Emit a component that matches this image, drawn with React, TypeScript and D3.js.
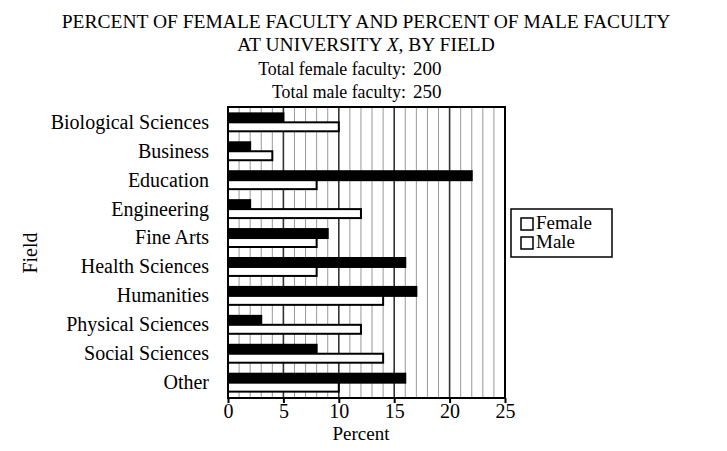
import { useEffect, useRef } from "react";
import * as d3 from "d3";

const categories = [
  "Biological Sciences",
  "Business",
  "Education",
  "Engineering",
  "Fine Arts",
  "Health Sciences",
  "Humanities",
  "Physical Sciences",
  "Social Sciences",
  "Other",
];
const femaleValues = [5, 2, 22, 2, 9, 16, 17, 3, 8, 16];
const maleValues = [10, 4, 8, 12, 8, 8, 14, 12, 14, 10];
const seriesNames = ["Female", "Male"];
const xTicks = [0, 5, 10, 15, 20, 25];

const App = () => {
  const svgRef = useRef<SVGSVGElement | null>(null);

  useEffect(() => {
    const svg = d3.select(svgRef.current);
    svg.selectAll("*").remove();

    const width = 727;
    const height = 451;
    const font = "'Liberation Serif', serif";
    const left = 228,
      right = 505,
      top = 107,
      bottom = 398;

    const x = d3.scaleLinear().domain([0, 25]).range([left, right]);
    const y = d3
      .scaleBand<string>()
      .domain(categories)
      .range([top, bottom])
      .paddingInner(0.38)
      .paddingOuter(0.22);
    const ySub = d3
      .scaleBand<string>()
      .domain(seriesNames)
      .range([0, y.bandwidth()]);

    svg.attr("width", width).attr("height", height);
    svg.append("rect").attr("width", width).attr("height", height).attr("fill", "#fff");

    // title
    const title = svg
      .append("g")
      .attr("font-family", font)
      .attr("font-size", 19.5)
      .attr("fill", "#000");
    title
      .append("text")
      .attr("x", 366)
      .attr("y", 28)
      .attr("text-anchor", "middle")
      .text("PERCENT OF FEMALE FACULTY AND PERCENT OF MALE FACULTY");
    const t2 = title
      .append("text")
      .attr("x", 366)
      .attr("y", 51)
      .attr("text-anchor", "middle");
    t2.append("tspan").text("AT UNIVERSITY ");
    t2.append("tspan").attr("font-style", "italic").text("X");
    t2.append("tspan").text(", BY FIELD");

    const totals = [
      ["Total female faculty:", "200"],
      ["Total male faculty:", "250"],
    ];
    totals.forEach((row, i) => {
      title
        .append("text")
        .attr("x", 406)
        .attr("y", 75 + i * 23)
        .attr("text-anchor", "end")
        .attr("font-size", 17.8)
        .text(row[0]);
      title
        .append("text")
        .attr("x", 413)
        .attr("y", 75 + i * 23)
        .attr("font-size", 19)
        .text(row[1]);
    });

    // grid
    const grid = svg.append("g");
    d3.range(1, 25).forEach((v) => {
      grid
        .append("line")
        .attr("x1", x(v))
        .attr("x2", x(v))
        .attr("y1", top)
        .attr("y2", bottom)
        .attr("stroke", v % 5 === 0 ? "#333" : "#999")
        .attr("stroke-width", v % 5 === 0 ? 1.6 : 1);
    });

    // bars
    const groups = svg
      .append("g")
      .selectAll("g")
      .data(categories)
      .enter()
      .append("g")
      .attr("transform", (d) => `translate(0,${y(d)})`);

    groups
      .append("rect")
      .attr("x", x(0))
      .attr("y", ySub("Female")!)
      .attr("width", (d, i) => x(femaleValues[i]) - x(0))
      .attr("height", ySub.bandwidth())
      .attr("fill", "#000")
      .attr("stroke", "#000")
      .attr("stroke-width", 2);

    groups
      .append("rect")
      .attr("x", x(0))
      .attr("y", ySub("Male")!)
      .attr("width", (d, i) => x(maleValues[i]) - x(0))
      .attr("height", ySub.bandwidth())
      .attr("fill", "#fff")
      .attr("stroke", "#000")
      .attr("stroke-width", 2);

    // frame
    svg
      .append("rect")
      .attr("x", left)
      .attr("y", top)
      .attr("width", right - left)
      .attr("height", bottom - top)
      .attr("fill", "none")
      .attr("stroke", "#000")
      .attr("stroke-width", 2);

    // x axis
    const xAxis = svg
      .append("g")
      .attr("transform", `translate(0,${bottom})`)
      .call(d3.axisBottom(x).tickValues(xTicks).tickSize(5).tickPadding(1));
    xAxis.select(".domain").remove();
    xAxis.selectAll("line").attr("stroke", "#000").attr("stroke-width", 2);
    xAxis
      .selectAll("text")
      .attr("font-family", font)
      .attr("font-size", 20)
      .attr("fill", "#000");

    svg
      .append("text")
      .attr("x", x(12))
      .attr("y", 440)
      .attr("text-anchor", "middle")
      .attr("font-family", font)
      .attr("font-size", 19)
      .text("Percent");

    // y labels
    svg
      .append("g")
      .selectAll("text")
      .data(categories)
      .enter()
      .append("text")
      .attr("x", 209)
      .attr("y", (d) => y(d)! + y.bandwidth() / 2)
      .attr("dy", "0.32em")
      .attr("text-anchor", "end")
      .attr("font-family", font)
      .attr("font-size", 20)
      .text((d) => d);

    svg
      .append("text")
      .attr("transform", `translate(37,253) rotate(-90)`)
      .attr("text-anchor", "middle")
      .attr("font-family", font)
      .attr("font-size", 20)
      .text("Field");

    // legend
    const legend = svg.append("g").attr("transform", "translate(511,209)");
    legend
      .append("rect")
      .attr("width", 101)
      .attr("height", 48)
      .attr("fill", "#fff")
      .attr("stroke", "#000")
      .attr("stroke-width", 1.5);
    seriesNames.forEach((name, i) => {
      legend
        .append("rect")
        .attr("x", 10)
        .attr("y", 9 + i * 19)
        .attr("width", 12)
        .attr("height", 12)
        .attr("fill", "#fff")
        .attr("stroke", "#000")
        .attr("stroke-width", 1.5);
      legend
        .append("text")
        .attr("x", 25)
        .attr("y", 20 + i * 19)
        .attr("font-family", font)
        .attr("font-size", 19)
        .text(name);
    });
  }, []);

  return (
    <div style={{ margin: -8 }}>
      <svg ref={svgRef}></svg>
    </div>
  );
};

export default App;
